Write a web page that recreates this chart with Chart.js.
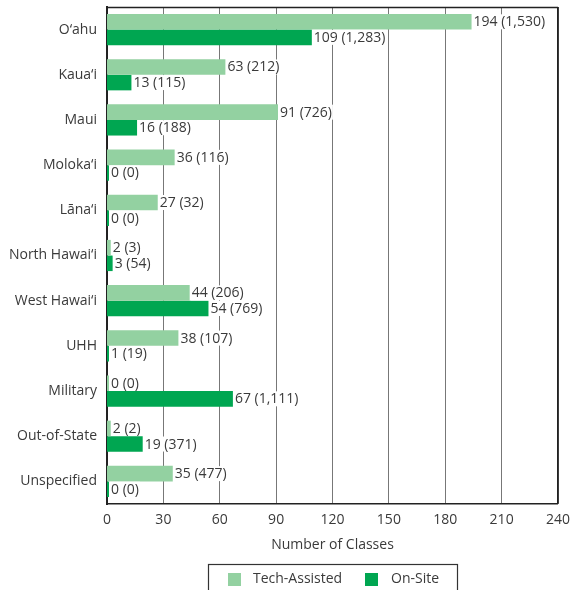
<!DOCTYPE html>
<html>
<head>
<meta charset="utf-8">
<script src="https://cdn.jsdelivr.net/npm/chart.js@4/dist/chart.umd.min.js"></script>
<style>
  html, body { margin: 0; padding: 0; background: #fff; }
  #wrap { width: 571px; height: 590px; }
</style>
</head>
<body>
<div id="wrap"><canvas id="c" width="571" height="590"></canvas></div>
<script>
// Sites offering classes
const sites = ['O‘ahu', 'Kaua‘i', 'Maui', 'Moloka‘i', 'Lāna‘i', 'North Hawai‘i',
  'West Hawai‘i', 'UHH', 'Military', 'Out-of-State', 'Unspecified'];

// Number of classes per site, with participant counts shown in parentheses
const techAssisted = [194, 63, 91, 36, 27, 2, 44, 38, 0, 2, 35];
const techAssistedParticipants = [1530, 212, 726, 116, 32, 3, 206, 107, 0, 2, 477];
const onSite = [109, 13, 16, 0, 0, 3, 54, 1, 67, 19, 0];
const onSiteParticipants = [1283, 115, 188, 0, 0, 54, 769, 19, 1111, 371, 0];

const xTicks = [0, 30, 60, 90, 120, 150, 180, 210, 240];

const FONT = "'Open Sans', 'Noto Sans', sans-serif";
const FS = 14;
const TEXT = '#3a3a3a';
const LIGHT = '#93d1a1';
const DARK = '#00a651';

const fmt = n => n.toLocaleString('en-US');

// Value labels "classes (participants)" on a white backing so gridlines break behind them
const valueLabels = {
  id: 'valueLabels',
  afterDatasetsDraw(chart) {
    const ctx = chart.ctx;
    ctx.save();
    ctx.font = FS + 'px ' + FONT;
    ctx.textBaseline = 'middle';
    ctx.textAlign = 'left';
    chart.data.datasets.forEach((ds, di) => {
      const meta = chart.getDatasetMeta(di);
      meta.data.forEach((bar, i) => {
        const txt = ds.data[i] + ' (' + fmt(ds.participants[i]) + ')';
        const x = Math.max(bar.x, bar.base + 2) + 1;
        const y = bar.y;
        const w = ctx.measureText(txt).width;
        ctx.fillStyle = '#ffffff';
        ctx.fillRect(x, y - 7.5, w + 2, 15);
        ctx.fillStyle = TEXT;
        ctx.fillText(txt, x + 1, y + 0.5);
      });
    });
    ctx.restore();
  }
};

// Frame around the plot area plus a boxed legend underneath
const frameAndLegend = {
  id: 'frameAndLegend',
  afterDraw(chart) {
    const ctx = chart.ctx;
    const a = chart.chartArea;
    ctx.save();
    ctx.strokeStyle = '#222';
    ctx.lineWidth = 1.5;
    ctx.beginPath();
    ctx.moveTo(a.left, a.top + 0.5);
    ctx.lineTo(a.right, a.top + 0.5);
    ctx.moveTo(a.right, a.top);
    ctx.lineTo(a.right, a.bottom);
    ctx.stroke();

    // legend box
    ctx.lineWidth = 1.2;
    ctx.strokeStyle = '#333';
    ctx.strokeRect(208.5, 564.5, 249, 40);
    ctx.font = FS + 'px ' + FONT;
    ctx.textBaseline = 'middle';
    ctx.textAlign = 'left';
    const items = [
      { x: 228, tx: 253, ds: chart.data.datasets[0] },
      { x: 365, tx: 391, ds: chart.data.datasets[1] }
    ];
    items.forEach(it => {
      ctx.fillStyle = it.ds.backgroundColor;
      ctx.fillRect(it.x, 573, 13, 13);
      ctx.fillStyle = TEXT;
      ctx.fillText(it.ds.label, it.tx, 579.5);
    });
    ctx.restore();
  }
};

new Chart(document.getElementById('c'), {
  type: 'bar',
  data: {
    labels: sites,
    datasets: [
      { label: 'Tech-Assisted', data: techAssisted, participants: techAssistedParticipants,
        backgroundColor: LIGHT, borderWidth: 0, minBarLength: 2 },
      { label: 'On-Site', data: onSite, participants: onSiteParticipants,
        backgroundColor: DARK, borderWidth: 0, minBarLength: 2 }
    ]
  },
  options: {
    indexAxis: 'y',
    responsive: false,
    animation: false,
    devicePixelRatio: 1,
    layout: { padding: { top: 7, right: 13, left: 0, bottom: 36.5 } },
    datasets: { bar: { categoryPercentage: 0.69, barPercentage: 1.0 } },
    plugins: {
      legend: { display: false },
      tooltip: { enabled: false }
    },
    scales: {
      x: {
        min: 0, max: 240,
        afterBuildTicks(scale) { scale.ticks = xTicks.map(v => ({ value: v })); },
        afterFit(scale) {
          scale.height = 49.5;
          scale.paddingLeft = 0; scale.paddingRight = 0;
          scale.paddingTop = 0; scale.paddingBottom = 0;
        },
        grid: {
          color: ctx => ctx.index === xTicks.length - 1 ? '#222' : '#777',
          lineWidth: ctx => ctx.index === 0 ? 0 : (ctx.index === xTicks.length - 1 ? 1.5 : 1),
          drawTicks: false
        },
        border: { color: '#222', width: 1.5 },
        ticks: { color: TEXT, font: { family: FONT, size: FS }, padding: 8, maxRotation: 0 },
        title: { display: true, text: 'Number of Classes', color: TEXT,
          font: { family: FONT, size: FS }, padding: { top: 0, bottom: 0 } }
      },
      y: {
        afterFit(scale) {
          scale.width = 107;
          scale.paddingTop = 0; scale.paddingBottom = 0;
          scale.paddingLeft = 0; scale.paddingRight = 0;
        },
        grid: { display: false, drawTicks: false },
        border: { color: '#222', width: 2 },
        ticks: { color: TEXT, font: { family: FONT, size: FS }, padding: 10 }
      }
    }
  },
  plugins: [valueLabels, frameAndLegend]
});
</script>
</body>
</html>
